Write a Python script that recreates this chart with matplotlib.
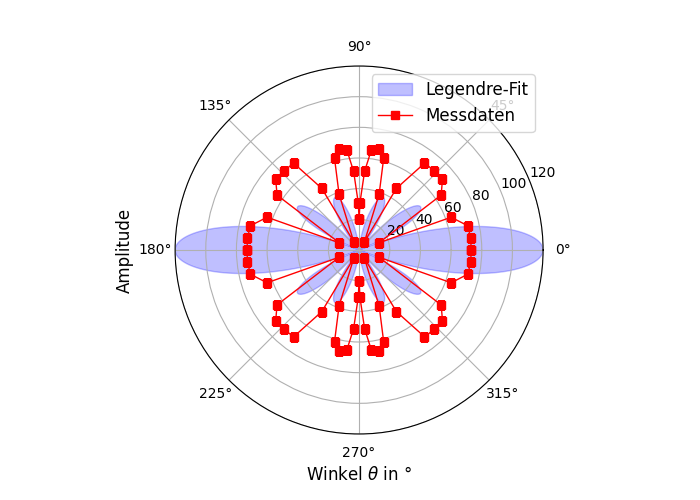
import numpy as np
import matplotlib
matplotlib.use('Agg')
import matplotlib.pyplot as plt

# measured data, first quadrant (angle in deg, amplitude), in measurement order
winkel_q1 = [0, 6, 12.6, 19.6, 20, 33.8, 40.3, 46.5, 53, 58.8, 57, 70.3, 75, 79, 83, 86, 89, 90]
ampl_q1 = [73, 73.3, 72.6, 63.7, 13.9, 64.4, 71.3, 71.4, 70.8, 47, 6.4, 38.8, 61.9, 67, 65.7, 51.5, 30.7, 20]

# fit: zeros of the fitted polynomial in cos^2(theta), peak amplitude
fit_nullstellen = [0.86, 0.40, 0.005]
fit_max = 120

w = np.array(winkel_q1)
a = np.array(ampl_q1)
w_all = np.concatenate([w, 180 - w[::-1], 180 + w, 360 - w[::-1]])
a_all = np.concatenate([a, a[::-1], a, a[::-1]])

theta = np.linspace(0, 2 * np.pi, 1000)
x2 = np.cos(theta) ** 2
f = np.ones_like(theta)
norm = 1.0
for n in fit_nullstellen:
    f = f * (x2 - n)
    norm = norm * (1 - n)
r_fit = fit_max * np.abs(f / norm)

fig = plt.figure(figsize=(7, 5), dpi=100)
ax = fig.add_axes([0.25, 0.132, 0.526, 0.736], projection='polar')
ax.fill(theta, r_fit, color='blue', alpha=0.25, label='Legendre-Fit')
ax.plot(np.deg2rad(w_all), a_all, 'rs-', lw=1, ms=6, label='Messdaten')
ax.set_rlim(0, 120)
ax.set_rticks([20, 40, 60, 80, 100, 120])
ax.set_rlabel_position(22.5)
ax.set_xlabel(r'Winkel $\theta$ in °', fontsize=12)
ax.set_ylabel('Amplitude', fontsize=12, labelpad=30)
ax.legend(loc='upper right', fontsize=12)
plt.savefig('out.png')
